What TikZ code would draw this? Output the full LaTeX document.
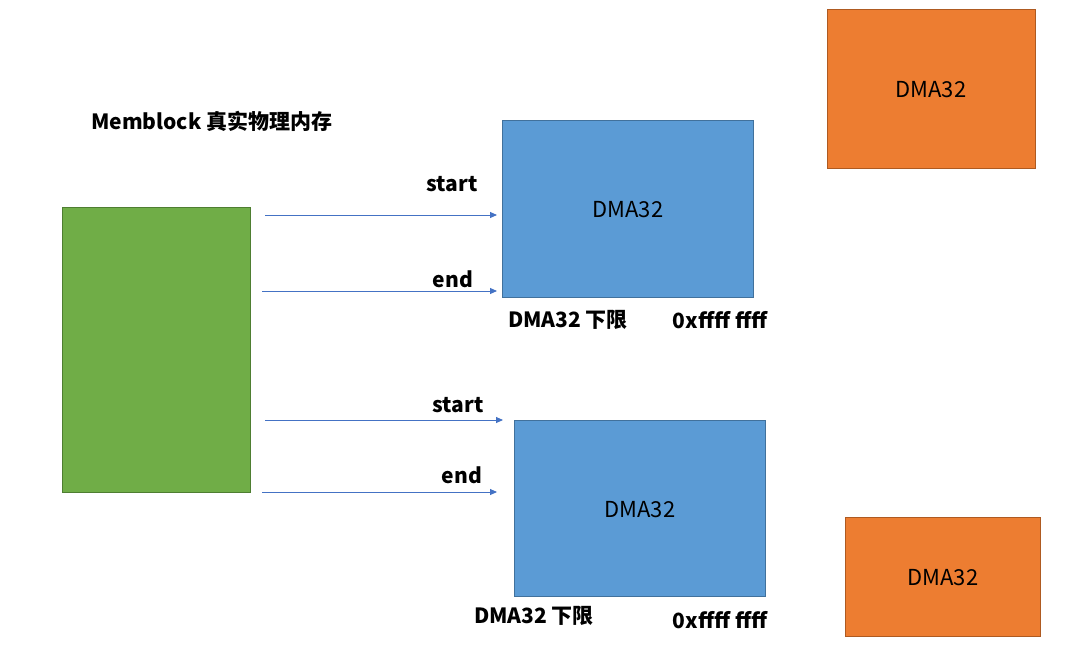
\documentclass[tikz,border=0pt]{standalone}
\usepackage{fontspec}
\setmainfont{Noto Sans CJK SC}
\usepackage{tikz}
\usetikzlibrary{positioning, arrows.meta}
\definecolor{memgreen}{HTML}{70AD47}
\definecolor{memgreenline}{HTML}{4E7E31}
\definecolor{dmablue}{HTML}{5B9BD5}
\definecolor{dmablueline}{HTML}{41719C}
\definecolor{dmaorange}{HTML}{ED7D31}
\definecolor{dmaorangeline}{HTML}{AE5A21}
\definecolor{pfeilblau}{HTML}{4472C4}

\begin{document}
\begin{tikzpicture}[
	x=1pt, y=-1pt,
	mem/.style={
		rectangle,
		draw=memgreenline,
		fill=memgreen,
		line width=0.8pt,
		inner sep=0pt,
		anchor=north west
	},
	dma/.style={
		rectangle,
		draw=dmablueline,
		fill=dmablue,
		line width=0.8pt,
		inner sep=0pt,
		anchor=north west
	},
	zone/.style={
		rectangle,
		draw=dmaorangeline,
		fill=dmaorange,
		line width=0.8pt,
		inner sep=0pt,
		anchor=north west
	},
	boxtext/.style={
		font=\fontsize{22}{26}\selectfont,
		inner sep=0pt
	},
	marke/.style={
		font=\fontsize{21}{25}\selectfont\bfseries,
		inner sep=0pt
	},
	pfeil/.style={
		-{Triangle[length=7pt,width=6pt]},
		line width=0.9pt,
		pfeilblau
	}
	]
	\useasboundingbox (0,0) rectangle (1091,645);
	% Speicherblock links
	\node[mem, minimum width=188pt, minimum height=285pt] (mem) at (62,207) {};
	\node[marke, anchor=west] (titel) at (91,121) {Memblock 真实物理内存};
	% DMA32 Bereiche
	\node[dma, minimum width=251pt, minimum height=177pt] (dmaA) at (502,120) {};
	\node[boxtext] (dmaAtext) at (628,210) {DMA32};
	\node[dma, minimum width=251pt, minimum height=176pt] (dmaB) at (514,420) {};
	\node[boxtext] (dmaBtext) at (640,510) {DMA32};
	\node[zone, minimum width=208pt, minimum height=159pt] (zoneA) at (827,9) {};
	\node[boxtext] (zoneAtext) at (931,90) {DMA32};
	\node[zone, minimum width=195pt, minimum height=119pt] (zoneB) at (845,517) {};
	\node[boxtext] (zoneBtext) at (943,578) {DMA32};
	% Pfeile
	\coordinate (startA) at (265,215);
	\coordinate (endA) at (262,291);
	\coordinate (startB) at (265,420);
	\coordinate (endB) at (262,492);
	\draw[pfeil] (startA) -- ([xshift=-5pt]startA -| dmaA.west);
	\draw[pfeil] (endA) -- ([xshift=-5pt]endA -| dmaA.west);
	\draw[pfeil] (startB) -- ([xshift=-11pt]startB -| dmaB.west);
	\draw[pfeil] (endB) -- ([xshift=-17pt]endB -| dmaB.west);
	\node[marke] (lblstartA) at (452,184) {start};
	\node[marke] (lblendA) at (453,279) {end};
	\node[marke] (lblstartB) at (458,405) {start};
	\node[marke] (lblendB) at (462,475) {end};
	% Grenzen
	\node[marke] (untenA) at (568,320) {DMA32 下限};
	\node[marke] (obenA) at (720,320) {0xffff ffff};
	\node[marke] (untenB) at (534,616) {DMA32 下限};
	\node[marke] (obenB) at (720,620) {0xffff ffff};
\end{tikzpicture}
\end{document}
